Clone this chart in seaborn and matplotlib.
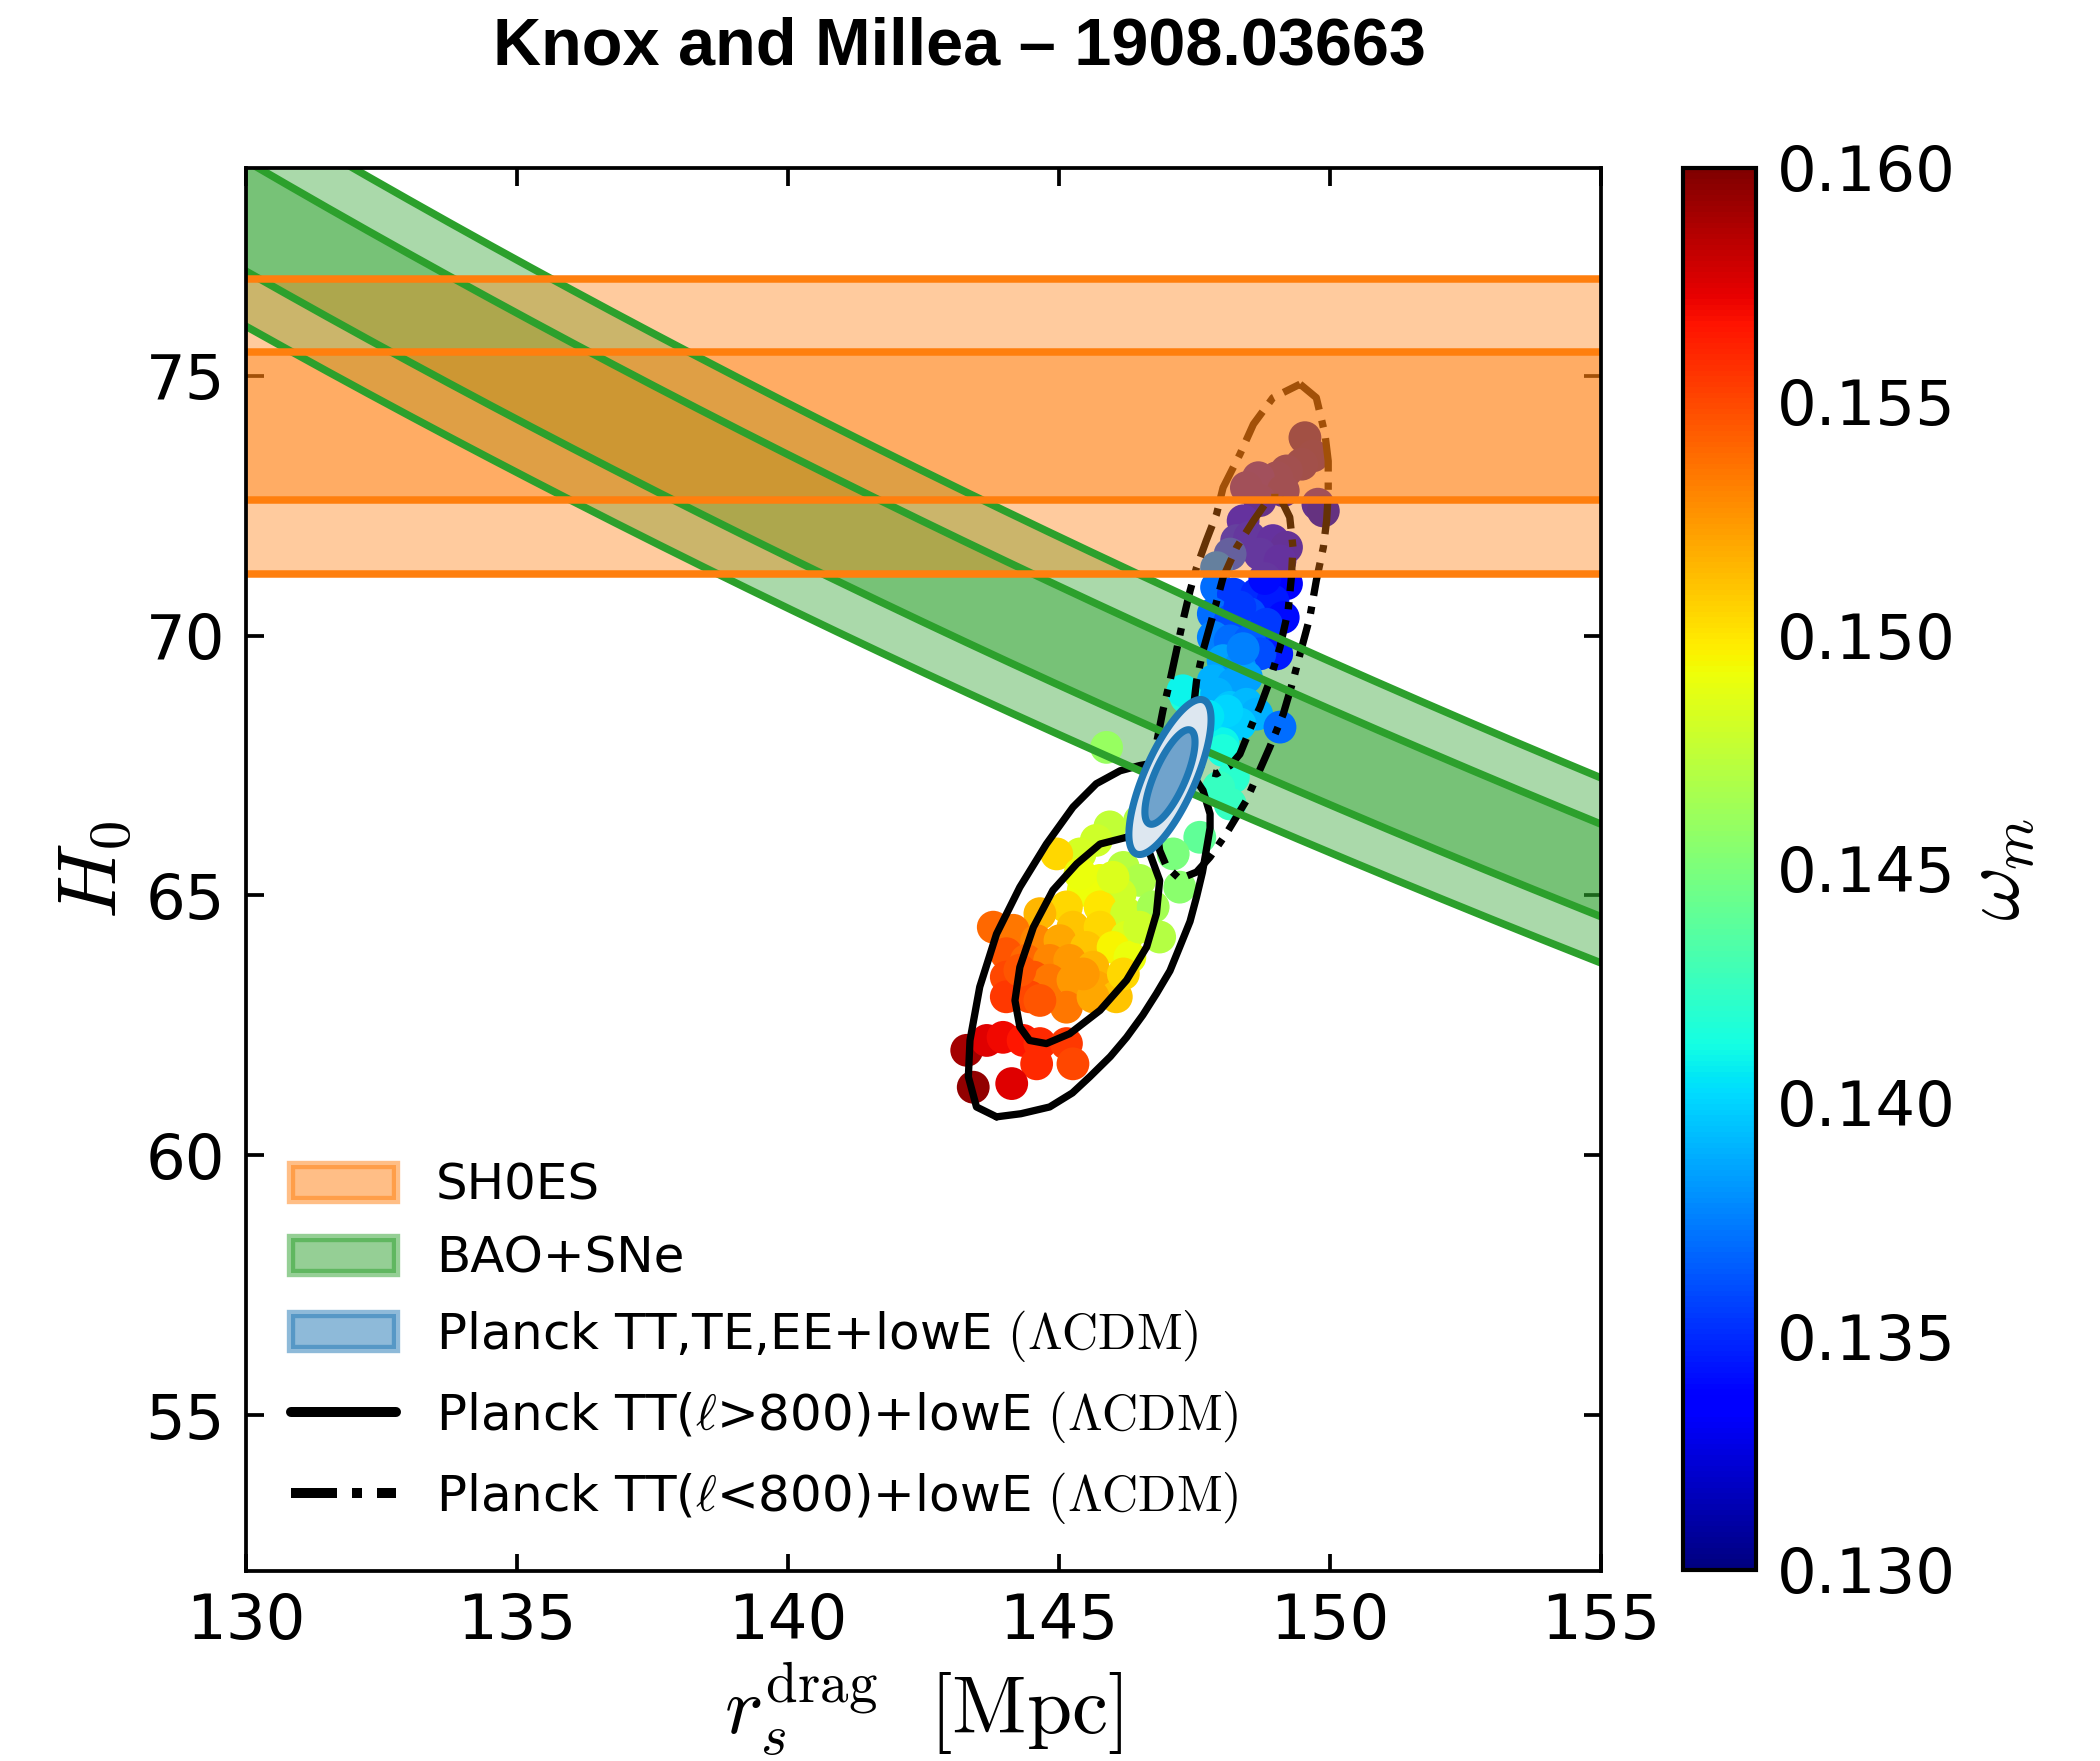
import numpy as np
import matplotlib
matplotlib.use("Agg")
import matplotlib.pyplot as plt
import seaborn as sns
from matplotlib.patches import Patch
from matplotlib.lines import Line2D
from matplotlib.colors import Normalize
from matplotlib.cm import ScalarMappable

# ---------------------------------------------------------------- data
# SH0ES distance-ladder H0
shoes_mean, shoes_sigma = 74.03, 1.42

# BAO+SNe: constraint on the product H0 * r_s^drag  [km/s]
bao_mean, bao_sigma = 10150.0, 138.0

# Planck TT,TE,EE+lowE (LCDM) Gaussian approximation
planck_mean = [147.05, 67.28]
planck_sigma = [0.305, 0.60]
planck_rho = 0.74

# Planck TT(l>800)+lowE samples: r_s^drag, H0, omega_m
sample_rs = [149.54, 149.69, 149.48, 149.20, 149.02, 148.68, 148.46, 149.14, 149.78, 149.88,
             148.71, 148.40, 148.28, 148.52, 148.95, 149.20, 148.71, 149.08, 148.16, 147.91,
             149.20, 147.91, 148.22, 148.65, 148.95, 149.14, 147.85, 148.16, 148.52, 148.83,
             147.85, 148.16, 148.52, 149.02, 148.71, 148.03, 148.34, 147.85, 148.22, 148.46,
             147.35, 147.91, 148.16, 148.46, 148.65, 149.08, 148.09, 148.34, 147.85, 148.03,
             145.88, 148.03, 148.22, 148.16, 147.95, 147.60, 147.11, 147.23, 146.49, 145.94,
             145.69, 145.39, 144.96, 146.19, 146.49, 145.76, 145.45, 146.13, 145.14, 145.76,
             146.25, 146.74, 144.65, 145.26, 145.76, 146.25, 146.86, 143.79, 144.16, 144.59,
             145.02, 145.51, 146.00, 146.31, 144.03, 144.40, 144.83, 145.20, 145.63, 144.03,
             144.53, 144.83, 145.26, 145.69, 144.03, 144.46, 145.14, 146.06, 145.63, 143.30,
             143.67, 143.97, 144.34, 144.65, 145.14, 144.59, 145.26, 143.42, 144.13,
             145.39, 146.00, 146.49, 145.45, 144.65, 144.28, 146.19, 148.34, 148.40, 148.10,
             148.80, 147.29, 147.75]
sample_h0 = [73.81, 73.46, 73.30, 73.17, 73.04, 73.04, 72.85, 72.79, 72.53, 72.40,
             72.60, 72.21, 71.83, 71.89, 71.83, 71.70, 71.57, 71.44, 71.57, 71.31,
             71.00, 70.93, 70.80, 70.80, 70.67, 70.35, 70.42, 70.29, 70.42, 70.22,
             69.97, 69.90, 69.90, 69.65, 69.65, 69.52, 69.39, 69.13, 69.07, 69.20,
             68.81, 68.88, 68.62, 68.68, 68.49, 68.24, 68.24, 68.30, 68.04, 67.92,
             67.85, 67.79, 67.28, 66.76, 67.08, 66.12, 65.80, 65.16, 66.44, 66.32,
             66.06, 65.80, 65.80, 65.54, 65.29, 65.29, 65.10, 65.03, 64.78, 64.78,
             64.65, 64.78, 64.65, 64.39, 64.39, 64.20, 64.20, 64.39, 64.33, 64.13,
             64.13, 64.00, 64.00, 63.81, 63.88, 63.75, 63.75, 63.75, 63.62, 63.43,
             63.43, 63.37, 63.37, 63.24, 63.05, 63.05, 62.85, 63.05, 63.05, 62.02,
             62.21, 62.27, 62.21, 62.15, 62.15, 61.76, 61.76, 61.31, 61.38,
             65.42, 65.35, 64.39, 63.49, 62.98, 63.56, 63.49, 70.55, 69.75, 68.55,
             71.10, 68.94, 68.45]
sample_om = [0.1310, 0.1312, 0.1315, 0.1318, 0.1320, 0.1328, 0.1325, 0.1320, 0.1325, 0.1320,
             0.1325, 0.1335, 0.1345, 0.1340, 0.1335, 0.1330, 0.1340, 0.1335, 0.1360, 0.1375,
             0.1335, 0.1370, 0.1355, 0.1350, 0.1345, 0.1340, 0.1370, 0.1360, 0.1360, 0.1355,
             0.1375, 0.1370, 0.1365, 0.1345, 0.1360, 0.1385, 0.1380, 0.1390, 0.1385, 0.1385,
             0.1415, 0.1390, 0.1395, 0.1392, 0.1390, 0.1370, 0.1398, 0.1398, 0.1405, 0.1410,
             0.1460, 0.1415, 0.1420, 0.1425, 0.1425, 0.1440, 0.1450, 0.1455, 0.1470, 0.1475,
             0.1480, 0.1482, 0.1505, 0.1472, 0.1468, 0.1490, 0.1492, 0.1480, 0.1505, 0.1500,
             0.1480, 0.1465, 0.1515, 0.1510, 0.1505, 0.1485, 0.1470, 0.1540, 0.1535, 0.1530,
             0.1520, 0.1510, 0.1495, 0.1490, 0.1545, 0.1540, 0.1530, 0.1525, 0.1515, 0.1550,
             0.1545, 0.1535, 0.1525, 0.1520, 0.1555, 0.1550, 0.1535, 0.1510, 0.1520, 0.1590,
             0.1575, 0.1570, 0.1565, 0.1560, 0.1555, 0.1560, 0.1550, 0.1595, 0.1575,
             0.1490, 0.1485, 0.1480, 0.1525, 0.1545, 0.1545, 0.1505, 0.1355, 0.1375, 0.1400,
             0.1340, 0.1410, 0.1405]

# Planck TT(l>800)+lowE contours (68% and 95%)
hi_1s = [(146.25, 66.12), (146.68, 65.80), (146.86, 65.29), (146.80, 64.65), (146.62, 64.01),
         (146.25, 63.37), (145.76, 62.79), (145.20, 62.34), (144.77, 62.15), (144.46, 62.21),
         (144.28, 62.47), (144.19, 62.98), (144.28, 63.62), (144.53, 64.39), (144.89, 65.10),
         (145.33, 65.61), (145.76, 65.99), (146.25, 66.12)]
hi_2s = [(143.85, 60.74), (144.30, 60.80), (144.83, 60.93), (145.25, 61.20), (145.57, 61.51),
         (145.95, 61.90), (146.25, 62.27), (146.55, 62.70), (146.80, 63.11), (147.05, 63.55),
         (147.23, 64.01), (147.42, 64.50), (147.54, 64.97), (147.65, 65.45), (147.72, 65.87),
         (147.79, 66.30), (147.79, 66.57), (147.66, 67.02), (147.45, 67.35), (147.10, 67.55),
         (146.75, 67.55), (146.49, 67.50), (146.13, 67.40), (145.69, 67.15), (145.26, 66.70),
         (144.77, 65.99), (144.28, 65.16), (143.85, 64.26), (143.54, 63.24), (143.36, 62.21),
         (143.33, 61.51), (143.48, 60.93), (143.85, 60.74)]

# Planck TT(l<800)+lowE contours (68% and 95%)
lo_1s = [(149.08, 72.66), (149.26, 72.28), (149.32, 71.70), (149.29, 71.12), (149.23, 70.48),
         (149.08, 69.78), (148.89, 69.13), (148.71, 68.62), (148.59, 68.36), (148.34, 67.72),
         (148.16, 67.50), (147.91, 67.34), (147.66, 67.40), (147.45, 67.60), (147.45, 68.30),
         (147.54, 69.13), (147.66, 69.71), (147.85, 70.42), (148.03, 71.12), (148.28, 71.70),
         (148.59, 72.21), (148.89, 72.66), (149.08, 72.66)]
lo_2s = [(149.45, 74.84), (149.75, 74.58), (149.91, 73.88), (149.97, 73.36), (149.97, 72.72),
         (149.94, 72.21), (149.88, 71.70), (149.75, 71.06), (149.63, 70.35), (149.45, 69.65),
         (149.32, 69.13), (149.14, 68.49), (148.89, 67.85), (148.46, 66.83), (148.09, 66.19),
         (147.79, 65.74), (147.54, 65.45), (147.23, 65.32), (146.99, 65.55), (146.86, 65.87),
         (146.80, 66.31), (146.78, 67.20), (146.80, 67.92), (146.92, 68.56), (147.05, 69.13),
         (147.17, 69.71), (147.29, 70.29), (147.42, 70.86), (147.54, 71.31), (147.72, 71.83),
         (147.91, 72.34), (148.03, 72.85), (148.34, 73.49), (148.59, 74.07), (148.95, 74.58),
         (149.45, 74.84)]

x_ticks = [130, 135, 140, 145, 150, 155]
y_ticks = [55, 60, 65, 70, 75]
om_ticks = [0.130, 0.135, 0.140, 0.145, 0.150, 0.155, 0.160]

# ---------------------------------------------------------------- style
sns.set_style("ticks")
plt.rcParams.update({
    "font.family": ["DejaVu Sans"],
    "mathtext.fontset": "cm",
    "text.color": "black",
    "axes.labelcolor": "black",
    "axes.edgecolor": "black",
    "xtick.color": "black",
    "ytick.color": "black",
})

ORANGE, GREEN, BLUE = "#ff7f0e", "#2ca02c", "#1f77b4"
DASHDOT = (0, (4.6, 1.5, 1.0, 1.5))
LW = 1.75
JET = matplotlib.colormaps["jet"]

fig = plt.figure(figsize=(7, 5.87), dpi=300)
ax = fig.add_axes([0.1171, 0.1079, 0.6452, 0.7967])
cax = fig.add_axes([0.8014, 0.1085, 0.0348, 0.7961])

xlim, ylim = (130, 155), (52, 79)
xx = np.linspace(xlim[0], xlim[1], 400)

# BAO+SNe band: H0 = (H0 r_d) / r_d
for k in (1, 2):
    ax.fill_between(xx, (bao_mean - k * bao_sigma) / xx, (bao_mean + k * bao_sigma) / xx,
                    color=GREEN, alpha=0.4, lw=0, zorder=1)
for k in (-2, -1, 1, 2):
    ax.plot(xx, (bao_mean + k * bao_sigma) / xx, color=GREEN, lw=1.8, zorder=6)

# samples coloured by omega_m
norm = Normalize(vmin=0.130, vmax=0.160)
sns.scatterplot(x=sample_rs, y=sample_h0, hue=sample_om, palette=JET, hue_norm=norm,
                s=62, linewidth=0, legend=False, ax=ax, zorder=2)

# TT contours
for poly in (hi_1s, hi_2s):
    px, py = zip(*poly)
    ax.plot(px, py, color="k", lw=LW, zorder=3, solid_joinstyle="round")
for poly in (lo_1s, lo_2s):
    px, py = zip(*poly)
    ax.plot(px, py, color="k", lw=LW, ls=DASHDOT, zorder=3)

# Planck TT,TE,EE ellipse from the Gaussian chi^2
gx, gy = np.meshgrid(np.linspace(145.0, 149.0, 500), np.linspace(63.0, 71.5, 500))
dx = (gx - planck_mean[0]) / planck_sigma[0]
dy = (gy - planck_mean[1]) / planck_sigma[1]
chi2 = (dx ** 2 - 2 * planck_rho * dx * dy + dy ** 2) / (1 - planck_rho ** 2)
ax.contourf(gx, gy, chi2, levels=[0, 2.30, 6.18], colors=["#70a3cc", "#dde7f0"], zorder=6.5)
ax.contour(gx, gy, chi2, levels=[2.30, 6.18], colors=[BLUE], linewidths=1.7, zorder=6.6)

# SH0ES band
for k in (1, 2):
    ax.axhspan(shoes_mean - k * shoes_sigma, shoes_mean + k * shoes_sigma,
               color=ORANGE, alpha=0.4, lw=0, zorder=5)
for k in (-2, -1, 1, 2):
    ax.axhline(shoes_mean + k * shoes_sigma, color=ORANGE, lw=1.8, zorder=7)

ax.set_xlim(*xlim)
ax.set_ylim(*ylim)
ax.set_xticks(x_ticks)
ax.set_yticks(y_ticks)
ax.tick_params(direction="in", top=True, right=True, length=4.2, width=0.9,
               labelsize=15, pad=5)
for sp in ax.spines.values():
    sp.set_linewidth(0.9)
    sp.set_zorder(10)
ax.set_xlabel(r"$r_s^{\rm drag}\ \ [{\rm Mpc}]$", fontsize=19.5, labelpad=2)
ax.set_ylabel(r"$H_0$", fontsize=20, labelpad=3)

handles = [
    Patch(facecolor=ORANGE, edgecolor=ORANGE, alpha=0.5, lw=2),
    Patch(facecolor=GREEN, edgecolor=GREEN, alpha=0.5, lw=2),
    Patch(facecolor=BLUE, edgecolor=BLUE, alpha=0.5, lw=2),
    Line2D([], [], color="k", lw=2.4),
    Line2D([], [], color="k", lw=2.4, ls=DASHDOT),
]
labels = [
    "SH0ES",
    "BAO+SNe",
    r"Planck TT,TE,EE+lowE $(\Lambda{\rm CDM})$",
    r"Planck TT($\ell$>800)+lowE $(\Lambda{\rm CDM})$",
    r"Planck TT($\ell$<800)+lowE $(\Lambda{\rm CDM})$",
]
leg = ax.legend(handles, labels, loc="lower left", frameon=False, fontsize=12,
                handlelength=2.1, handleheight=0.7, labelspacing=0.5)
leg.set_zorder(20)

# colour bar for omega_m
cb = fig.colorbar(ScalarMappable(norm=norm, cmap=JET), cax=cax)
cb.set_ticks(om_ticks)
cb.ax.set_yticklabels([f"{t:.3f}" for t in om_ticks])
cax.tick_params(direction="in", length=4.2, width=0.9, labelsize=15, pad=5)
cb.outline.set_linewidth(1.0)
cb.set_label(r"$\omega_m$", fontsize=20, labelpad=0)

fig.text(0.4567, 0.973, "Knox and Millea \u2013 1908.03663", ha="center", va="center",
         fontsize=16, fontweight="bold", family=["Liberation Sans", "DejaVu Sans"])

fig.savefig("out.png", dpi=300)
